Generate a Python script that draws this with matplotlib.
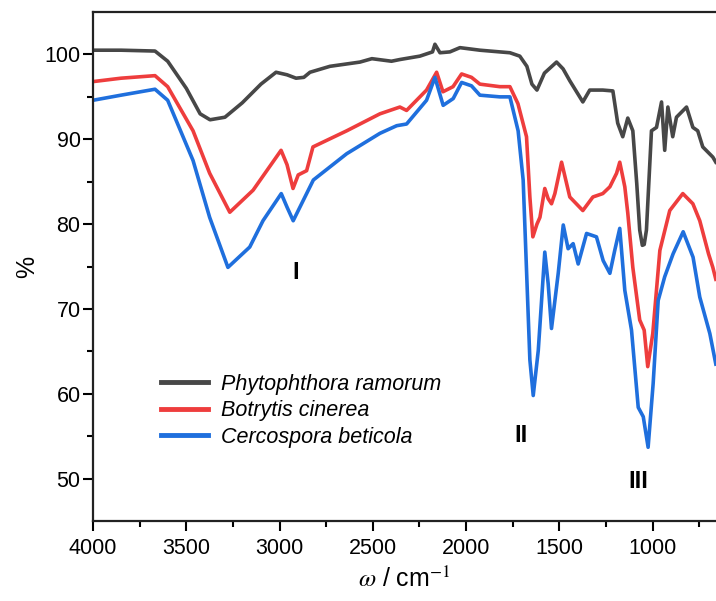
import matplotlib.pyplot as plt

plt.rcParams['font.family'] = ['Liberation Sans', 'DejaVu Sans']
plt.rcParams['mathtext.fontset'] = 'stix'

# wavenumbers (cm-1) and transmittance (%)
phyto_w = [4000, 3850, 3668, 3600, 3500, 3426, 3373, 3293, 3200, 3100, 3019, 2960, 2912,
           2870, 2837, 2730, 2569, 2505, 2400, 2355, 2248, 2180, 2167, 2140, 2087, 2033,
           1926, 1819, 1765, 1712, 1674, 1647, 1620, 1580, 1515, 1480, 1444, 1374, 1337,
           1267, 1213, 1187, 1160, 1133, 1106, 1085, 1069, 1055, 1045, 1033, 1006, 979,
           952, 935, 918, 892, 872, 818, 784, 758, 731, 677, 661]
phyto_t = [100.5, 100.5, 100.4, 99.2, 96.0, 93.0, 92.3, 92.6, 94.3, 96.5, 97.9, 97.6, 97.2,
           97.3, 97.9, 98.6, 99.1, 99.5, 99.2, 99.4, 99.8, 100.3, 101.2, 100.2, 100.3, 100.8,
           100.5, 100.3, 100.2, 99.8, 98.6, 96.5, 95.8, 97.8, 99.1, 98.3, 96.9, 94.4, 95.8,
           95.8, 95.7, 91.9, 90.3, 92.5, 91.0, 84.8, 79.3, 77.5, 77.6, 79.3, 91.0, 91.4,
           94.4, 88.7, 93.8, 90.3, 92.6, 93.8, 91.4, 91.0, 89.1, 87.9, 87.3]

botry_w = [4000, 3850, 3668, 3600, 3464, 3375, 3267, 3142, 2992, 2960, 2928, 2900, 2855,
           2821, 2640, 2462, 2355, 2319, 2212, 2158, 2124, 2070, 2024, 1971, 1926, 1819,
           1765, 1722, 1676, 1658, 1642, 1620, 1604, 1578, 1560, 1542, 1524, 1488, 1444,
           1374, 1320, 1267, 1229, 1193, 1176, 1149, 1133, 1106, 1069, 1045, 1026, 999,
           961, 908, 838, 784, 747, 700, 677, 661]
botry_t = [96.8, 97.2, 97.5, 96.2, 91.0, 86.0, 81.4, 84.0, 88.7, 87.0, 84.2, 85.8, 86.3,
           89.1, 91.0, 93.0, 93.8, 93.4, 95.8, 97.9, 95.6, 96.2, 97.7, 97.3, 96.5, 96.2,
           96.2, 94.2, 90.3, 83.2, 78.5, 80.0, 80.8, 84.2, 83.0, 82.4, 83.6, 87.3, 83.2,
           81.6, 83.2, 83.6, 84.4, 86.0, 87.3, 84.4, 81.3, 74.9, 68.7, 67.5, 63.2, 67.1,
           76.9, 81.6, 83.6, 82.4, 80.4, 76.5, 74.9, 73.5]

cerco_w = [4000, 3850, 3668, 3600, 3464, 3375, 3277, 3160, 3089, 2991, 2960, 2927, 2873,
           2819, 2640, 2462, 2372, 2319, 2212, 2167, 2123, 2069, 2024, 1971, 1926, 1819,
           1765, 1721, 1694, 1658, 1640, 1613, 1578, 1560, 1542, 1506, 1479, 1453, 1426,
           1399, 1354, 1301, 1265, 1229, 1203, 1176, 1149, 1113, 1077, 1050, 1024, 997,
           970, 935, 890, 836, 783, 747, 693, 661]
cerco_t = [94.6, 95.2, 95.9, 94.6, 87.5, 80.8, 74.9, 77.3, 80.4, 83.6, 82.0, 80.4, 82.8,
           85.2, 88.3, 90.7, 91.6, 91.8, 94.6, 97.3, 94.0, 94.8, 96.7, 96.3, 95.2, 95.0,
           95.0, 91.0, 85.2, 64.0, 59.8, 65.1, 76.7, 73.0, 67.7, 74.2, 79.9, 77.1, 77.7,
           75.3, 78.9, 78.5, 75.7, 74.2, 76.9, 79.5, 72.2, 67.5, 58.4, 57.3, 53.7, 61.2,
           71.0, 73.8, 76.5, 79.1, 76.1, 71.4, 67.1, 63.5]

labels = ['Phytophthora ramorum', 'Botrytis cinerea', 'Cercospora beticola']
colors = ['#474747', '#ee3d3d', '#1f6fdd']

fig = plt.figure(figsize=(7.16, 6.01), dpi=100)
ax = fig.add_axes([0.130, 0.133, 0.870, 0.847])

ax.plot(phyto_w, phyto_t, color=colors[0], lw=2.6, label=labels[0])
ax.plot(botry_w, botry_t, color=colors[1], lw=2.6, label=labels[1])
ax.plot(cerco_w, cerco_t, color=colors[2], lw=2.6, label=labels[2])

ax.set_xlim(4000, 660)
ax.set_ylim(45, 105)
ax.set_xticks([4000, 3500, 3000, 2500, 2000, 1500, 1000])
ax.set_xticks([3750, 3250, 2750, 2250, 1750, 1250, 750], minor=True)
ax.set_yticks([50, 60, 70, 80, 90, 100])
ax.set_yticks([55, 65, 75, 85, 95], minor=True)
ax.tick_params(which='major', direction='out', length=7, width=1.5, labelsize=15.5)
ax.tick_params(axis='y', which='major', pad=2)
ax.tick_params(axis='x', which='major', pad=5)
ax.tick_params(which='minor', direction='out', length=4, width=1.5)
for s in ['left', 'bottom', 'top']:
    ax.spines[s].set_linewidth(1.6)
    ax.spines[s].set_color('#222222')
ax.spines['right'].set_visible(False)

ax.set_ylabel('%', fontsize=18, labelpad=4)
ax.set_xlabel(r'$\omega$ / cm$^{-1}$', fontsize=18, labelpad=6)

ax.text(2912, 74.3, 'I', fontsize=17, fontweight='bold', ha='center', va='center')
ax.text(1706, 55.1, 'II', fontsize=17, fontweight='bold', ha='center', va='center')
ax.text(1079, 49.7, 'III', fontsize=17, fontweight='bold', ha='center', va='center')

leg = ax.legend(loc='upper left', bbox_to_anchor=(0.078, 0.327), frameon=False,
                prop={'style': 'italic', 'size': 15.5}, handlelength=2.2,
                handletextpad=0.6, labelspacing=0.25)
for line in leg.get_lines():
    line.set_linewidth(3.5)

fig.savefig('out.png', dpi=100)
